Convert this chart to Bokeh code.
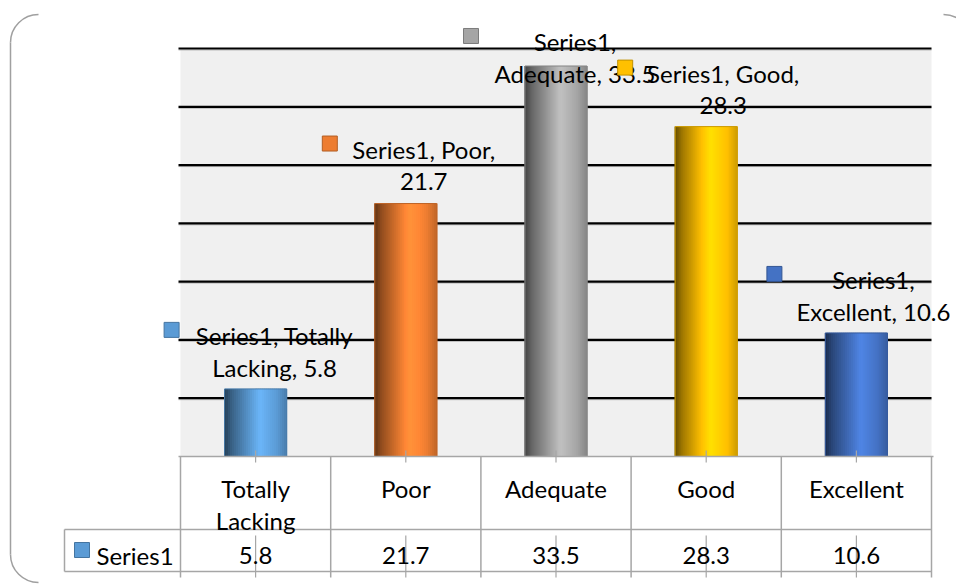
import textwrap
import numpy as np
from bokeh.plotting import figure
from bokeh.models import Range1d, ColumnDataSource
from bokeh.core.properties import value
from bokeh.embed import file_html
from bokeh.resources import INLINE

# ---------------- data ----------------
series_name = "Series1"
categories = ["Totally Lacking", "Poor", "Adequate", "Good", "Excellent"]
values = [5.8, 21.7, 33.5, 28.3, 10.6]
bar_colors = ["#5b9bd5", "#ed7d31", "#a5a5a5", "#ffc000", "#4472c4"]
y_ticks = [5, 10, 15, 20, 25, 30, 35]
y_max = 35

# ---------------- layout (canvas px) ----------------
W, H = 956, 584
PX0, PX1 = 180, 931      # plot area left / right
PY0, PY1 = 456, 48       # baseline / top of value axis
n = len(categories)
sx = (PX1 - PX0) / n
sy = (PY0 - PY1) / y_max

def dxu(px): return px / sx
def dyu(px): return px / sy
def cx(px): return (px - PX0) / sx
def cy(px): return (PY0 - px) / sy

FONT = value("Lato")
FS = value("24px")
TXT = "#000000"
GRID_GRAY = "#a6a6a6"

p = figure(width=W, height=H, x_range=Range1d(cx(0), cx(W)), y_range=Range1d(cy(H), cy(0)),
           x_axis_type=None, y_axis_type=None, output_backend="svg", toolbar_location=None,
           min_border=0, outline_line_color=None, background_fill_color="white",
           border_fill_color="white")

# plot area background
p.quad(left=[0], right=[n], bottom=[0], top=[y_max], fill_color="#f0f0f0", line_color=None)

# gridlines
p.segment(x0=[cx(178)] * len(y_ticks), x1=[n] * len(y_ticks), y0=[t - dyu(1.5) for t in y_ticks],
          y1=[t - dyu(1.5) for t in y_ticks], line_color="#9a9a9a", line_width=1, line_alpha=0.6)
p.segment(x0=[cx(178)] * len(y_ticks), x1=[n] * len(y_ticks), y0=y_ticks, y1=y_ticks,
          line_color="#000000", line_width=2.2)

# cylinder-like bars via gradient strips
def shade(hexc, f):
    r, g, b = int(hexc[1:3], 16), int(hexc[3:5], 16), int(hexc[5:7], 16)
    c = [min(255, int(round(ch * f))) for ch in (r, g, b)]
    return "#%02x%02x%02x" % tuple(c)

profile_t = [0.0, 0.12, 0.58, 0.85, 1.0]
profile_f = [0.38, 0.62, 1.17, 1.0, 0.82]
NS = 31
bw = dxu(62)
sxs, sws, sts, scs = [], [], [], []
for i, (v, col) in enumerate(zip(values, bar_colors)):
    xc = i + 0.5
    for k in range(NS):
        t = (k + 0.5) / NS
        f = float(np.interp(t, profile_t, profile_f))
        sxs.append(xc - bw / 2 + t * bw)
        sws.append(bw / NS * 1.6)
        sts.append(v)
        scs.append(shade(col, f))
p.vbar(x="x", width="w", top="top", bottom=0, fill_color="c", line_color=None,
       source=ColumnDataSource(dict(x=sxs, w=sws, top=sts, c=scs)))
p.vbar(x=[i + 0.5 for i in range(n)], width=bw, top=values, bottom=0, fill_color=None,
       line_color=[shade(c, 0.8) for c in bar_colors], line_width=1)

# baseline axis line
p.segment(x0=[cx(178)], x1=[cx(933)], y0=[0], y1=[0], line_color=GRID_GRAY, line_width=1.5)

# data table lines
p.segment(x0=list(range(n + 1)), x1=list(range(n + 1)), y0=[0] * (n + 1), y1=[cy(577)] * (n + 1),
          line_color=GRID_GRAY, line_width=1.5)
p.segment(x0=[cx(64), cx(64)], x1=[n, n], y0=[cy(529), cy(571)], y1=[cy(529), cy(571)],
          line_color=GRID_GRAY, line_width=1.5)
p.segment(x0=[cx(64)], x1=[cx(64)], y0=[cy(529)], y1=[cy(571)], line_color=GRID_GRAY, line_width=1.5)
centers = [i + 0.5 for i in range(n)]
p.segment(x0=centers, x1=centers, y0=[cy(450)] * n, y1=[cy(462)] * n, line_color=GRID_GRAY, line_width=1.2)
p.segment(x0=centers, x1=centers, y0=[cy(535)] * n, y1=[cy(577)] * n, line_color=GRID_GRAY, line_width=1.2)

# table header (category names)
hx, hy, ht = [], [], []
for i, c in enumerate(categories):
    lines = c.split(" ") if len(c) > 12 else [c]
    for j, ln in enumerate(lines):
        hx.append(i + 0.5); hy.append(cy(488 + 32 * j)); ht.append(ln)
p.text(x=hx, y=hy, text=ht, text_align="center", text_baseline="middle",
       text_font=FONT, text_font_size=FS, text_color=TXT)

# table values row
p.text(x=centers, y=[cy(555)] * n, text=[str(v) for v in values], text_align="center",
       text_baseline="middle", text_font=FONT, text_font_size=FS, text_color=TXT)
p.text(x=[cx(96)], y=[cy(555)], text=[series_name], text_align="left", text_baseline="middle",
       text_font=FONT, text_font_size=FS, text_color=TXT)
p.rect(x=[cx(81.5)], y=[cy(549.5)], width=15, height=15, width_units="screen", height_units="screen",
       fill_color=bar_colors[0], line_color=shade(bar_colors[0], 0.75), line_width=1)

# data labels with legend keys
label_dy = [-21, -22, 8, -21, -21]        # px: centre of last line relative to bar top
label_dx = [19, 18, 19, 17, 17]            # px: text centre relative to bar centre
key_dx = [-84, -76, -85, -81, -82]         # px: key centre relative to bar centre
lx, ly, lt = [], [], []
kx, ky = [], []
for i, (c, v) in enumerate(zip(categories, values)):
    lines = textwrap.wrap(f"{series_name}, {c}, {v}", 16)
    last = v - dyu(label_dy[i])
    for j, ln in enumerate(lines):
        lx.append(i + 0.5 + dxu(label_dx[i]))
        ly.append(last + dyu(32 * (len(lines) - 1 - j)))
        lt.append(ln)
    kx.append(i + 0.5 + dxu(key_dx[i]))
    ky.append(last + dyu(32 * (len(lines) - 1) + 6))
p.text(x=lx, y=ly, text=lt, text_align="center", text_baseline="middle",
       text_font=FONT, text_font_size=FS, text_color=TXT)
p.rect(x=kx, y=ky, width=15, height=15, width_units="screen", height_units="screen",
       fill_color=bar_colors, line_color=[shade(c, 0.75) for c in bar_colors], line_width=1)

# outer frame: left edge with rounded corners, and the top-right corner piece
R = 28
FRAME = "#a0a0a0"
p.segment(x0=[cx(10)], x1=[cx(10)], y0=[cy(14 + R)], y1=[cy(582 - R)], line_color=FRAME, line_width=1.5)
p.arc(x=[cx(10 + R), cx(10 + R), cx(943)], y=[cy(14 + R), cy(582 - R), cy(14 + R)],
      radius=R, radius_units="screen",
      start_angle=[np.pi / 2, np.pi, np.pi / 3], end_angle=[np.pi, 1.5 * np.pi, np.pi / 2],
      line_color=FRAME, line_width=1.5)

open("out.html", "w").write(file_html(p, INLINE))
